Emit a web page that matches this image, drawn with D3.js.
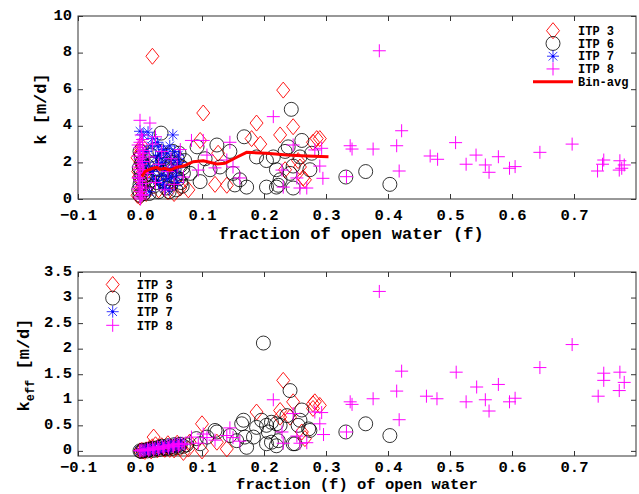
<!DOCTYPE html>
<html>
<head>
<meta charset="utf-8">
<script src="https://cdn.jsdelivr.net/npm/d3@7"></script>
<style>
  body { margin: 0; background: #fff; }
  text { font-family: "Liberation Mono", "DejaVu Sans Mono", monospace; font-weight: bold; fill: #000; }
</style>
</head>
<body>
<div id="chart"></div>
<script>
// tick labels
const fTicks = [-0.1, 0, 0.1, 0.2, 0.3, 0.4, 0.5, 0.6, 0.7]
const kTicks = [0, 2, 4, 6, 8, 10]
const keffTicks = [0, 0.5, 1, 1.5, 2, 2.5, 3, 3.5]
const seriesNames = ['ITP 3', 'ITP 6', 'ITP 7', 'ITP 8']

// top panel: [f, k]
const itp3Top = [[0,0.1],[0,0.5],[0.002,1.0],[-0.003,1.5],[0.001,2.0],[0,2.5],[0.003,2.9],[-0.004,0.2],[0.004,0.7],
  [-0.002,1.2],[0.003,1.75],[-0.004,2.25],[0.002,2.7],[0.01,0.3],[0.015,0.8],
  [0.02,7.8],[0.025,1.2],[0.03,0.5],[0.035,2.2],[0.045,0.4],[0.05,1.0],[0.055,0.3],[0.06,2.0],[0.065,0.6],
  [0.078,0.5],[0.097,3.2],[0.102,4.7],[0.121,0.8],[0.126,2.5],[0.14,0.75],[0.18,3.3],[0.188,4.15],[0.194,3.0],
  [0.226,3.5],[0.231,5.95],[0.247,3.95],[0.234,1.6],[0.255,2.1],[0.258,1.75],[0.263,1.15],[0.266,1.05],
  [0.279,3.1],[0.285,3.3],[0.29,3.3]]
const itp6Top = [[0,0.2],[0,0.8],[0.002,1.4],[0.003,2.0],[0,2.6],[-0.002,0.5],[0.001,1.1],[-0.001,1.7],[0.002,2.3],
  [0.006,0.3],[0.007,1.25],[0.005,1.9],[0.008,0.5],[0.01,1.1],[0.012,1.8],[0.015,0.3],
  [0.018,2.4],[0.02,1.3],[0.022,0.7],[0.025,2.0],[0.028,1.6],[0.03,0.4],[0.032,2.6],[0.034,3.6],[0.036,1.0],
  [0.04,1.9],[0.042,0.6],[0.045,2.4],[0.048,1.3],[0.05,0.8],[0.052,2.0],[0.055,1.6],[0.058,0.5],[0.06,2.2],
  [0.062,1.1],[0.065,1.8],[0.068,0.7],[0.07,1.4],[0.072,2.1],
  [0.016,1.0],[0.024,2.7],[0.027,0.9],[0.033,1.4],[0.038,2.2],[0.043,1.6],[0.047,0.4],[0.053,2.6],
  [0.057,1.2],[0.063,2.5],[0.066,0.9],[0.069,1.7],[0.019,1.9],[0.039,0.9],[0.049,1.8],
  [0.081,1.4],[0.092,2.85],[0.097,0.95],[0.105,2.2],[0.113,1.6],[0.124,2.95],[0.129,1.75],[0.145,2.6],
  [0.15,1.4],[0.153,0.77],[0.161,1.05],[0.168,3.4],[0.172,0.65],[0.188,2.3],[0.204,2.1],[0.204,0.65],
  [0.215,2.3],[0.22,1.6],[0.22,0.65],[0.223,0.75],[0.226,1.05],[0.234,2.6],[0.239,2.85],[0.242,1.4],
  [0.244,4.9],[0.247,1.8],[0.247,0.6],[0.258,2.3],[0.261,3.2],[0.274,1.6],[0.277,2.5],
  [0.332,1.2],[0.364,1.5],[0.403,0.8]]
const itp7Top = [[0,3.7],[0.005,3.5],[0.013,3.65],[0.02,3.3],[0.053,3.5],[0.03,2.85],[0.025,2.3],[0.035,2.0],
  [0.04,1.6],[0.045,2.5],[0.05,1.2],[0.055,2.1],[0.06,1.7],[0.03,0.9],[0.04,0.6],[0.02,1.5],[0.01,2.6],
  [0.048,2.9],[0.062,2.4],[0.035,1.3],[0,1.0],[0.005,2.0],[0.015,0.4],[0.06,0.9],
  [0.018,2.9],[0.022,1.1],[0.027,1.8],[0.032,2.4],[0.037,0.8],[0.042,2.2],[0.044,1.1],[0.052,1.7],
  [0.056,2.6],[0.058,1.3],[0.064,2.0],[0.012,1.8],[0.028,3.1],[0.038,2.7],[0.047,0.5]]
const itp8Top = [[0,0.1],[0,0.4],[0,0.7],[0,1.0],[0,1.3],[0,1.6],[0,1.9],[0,2.2],[0,2.5],[0,2.8],[0,3.1],
  [0.004,0.25],[-0.003,0.55],[0.004,0.85],[-0.003,1.15],[0.004,1.45],[-0.003,1.75],[0.004,2.05],[-0.003,2.35],
  [0.004,2.65],[-0.003,2.95],[0.004,3.25],[0.001,0.0],[0.006,1.6],[0.006,2.5],
  [0.002,3.5],[0,4.3],[0.016,4.15],[0.003,0.2],[-0.002,1.15],[0.003,2.05],
  [0.01,0.6],[0.012,1.4],[0.015,2.3],[0.02,3.0],[0.025,0.9],[0.03,1.9],[0.035,2.6],[0.04,0.5],[0.045,1.5],
  [0.05,2.2],[0.055,0.8],[0.06,1.8],[0.065,2.7],[0.07,1.2],[0.025,3.4],
  [0.083,3.2],[0.094,1.58],[0.102,3.2],[0.108,2.4],[0.121,1.7],[0.14,2.13],[0.145,3.1],[0.15,1.75],
  [0.161,1.15],[0.215,4.5],[0.229,1.58],[0.231,0.65],[0.247,2.95],[0.253,1.15],[0.258,0.6],[0.269,0.6],
  [0.282,2.68],[0.29,1.8],[0.293,2.77],[0.295,1.13],[0.333,1.22],[0.339,2.91],[0.342,2.73],[0.376,2.73],
  [0.386,8.1],[0.414,2.91],[0.418,1.53],[0.422,3.73],[0.468,2.35],[0.48,2.17],[0.509,3.08],[0.526,1.9],
  [0.542,2.4],[0.557,1.86],[0.563,1.46],[0.578,2.31],[0.596,1.68],[0.605,1.77],[0.645,2.55],[0.697,3.0],
  [0.738,1.53],[0.746,1.9],[0.748,2.13],[0.773,1.58],[0.774,2.09],[0.777,1.68],[0.781,1.86]]
const binAvg = [[0.003,1.22],[0.008,1.5],[0.013,1.58],[0.021,1.68],[0.027,1.73],[0.032,1.62],[0.04,1.68],
  [0.048,1.58],[0.059,1.73],[0.07,1.8],[0.086,2.04],[0.102,2.09],[0.124,1.91],[0.137,1.95],[0.156,2.28],
  [0.172,2.55],[0.204,2.5],[0.237,2.4],[0.269,2.35],[0.304,2.31]]

// bottom panel: [f, k_eff]
const itp3Bot = [[0,0],[0.003,0.01],[0.005,0.0],[0.01,0.02],[0.015,0.05],[0.02,0.08],[0.022,0.27],[0.025,0.12],
  [0.03,0.06],[0.035,0.1],[0.04,0.03],[0.045,0.14],[0.05,0.07],[0.055,0.02],[0.06,0.15],[0.065,0.05],
  [0.008,-0.01],[0.018,0.0],[0.028,0.02],[0.038,0.04],[0.048,0.03],[0.058,0.06],
  [0.07,-0.03],[0.08,0.17],[0.078,0.04],[0.1,0.0],[0.1,0.53],[0.124,0.17],[0.14,0.04],[0.188,0.76],
  [0.226,0.79],[0.226,0.66],[0.231,1.38],[0.242,0.66],[0.247,0.96],[0.261,0.37],[0.266,0.24],[0.279,0.92],
  [0.282,0.96],[0.279,0.83],[0.29,0.89]]
const itp6Bot = [[0,0],[0.005,0.01],[0.01,0.02],[0.015,0.03],[0.02,0.05],[0.025,0.04],[0.03,0.07],[0.035,0.09],
  [0.04,0.06],[0.045,0.1],[0.05,0.08],[0.055,0.12],[0.06,0.1],[0.065,0.13],[0.07,0.09],[0.075,0.12],
  [0.002,-0.01],[0.012,0.0],[0.022,0.01],[0.032,0.03],[0.042,0.04],[0.052,0.05],[0.062,0.07],
  [0.091,0.24],[0.097,0.14],[0.108,0.27],[0.121,0.4],[0.124,0.37],[0.145,0.3],[0.156,0.2],[0.164,0.53],
  [0.167,0.6],[0.169,0.27],[0.172,0.07],[0.183,0.27],[0.188,0.46],[0.196,0.6],[0.199,2.11],[0.204,0.5],
  [0.204,0.14],[0.207,0.37],[0.212,0.56],[0.212,0.17],[0.22,0.53],[0.22,0.1],[0.223,0.2],[0.226,0.5],
  [0.237,0.69],[0.242,1.18],[0.247,0.14],[0.25,0.14],[0.255,0.5],[0.258,0.6],[0.261,0.8],[0.272,0.43],
  [0.274,0.4],[0.332,0.37],[0.364,0.53],[0.403,0.3]]
const itp7Bot = [[0,0],[0.005,0.01],[0.01,0.03],[0.015,0.04],[0.02,0.06],[0.025,0.05],[0.03,0.08],[0.035,0.07],
  [0.04,0.1],[0.045,0.12],[0.05,0.09],[0.055,0.14],[0.06,0.11],[0.065,0.15],
  [0.008,0.0],[0.018,0.02],[0.028,0.04],[0.038,0.05],[0.048,0.06],[0.058,0.08],[0.068,0.12]]
const itp8Bot = [[0,0],[0,0.01],[0.003,0.02],[0.008,0.02],[0.012,0.04],[0.016,0.03],[0.02,0.06],[0.024,0.05],
  [0.028,0.08],[0.032,0.06],[0.036,0.09],[0.04,0.08],[0.044,0.1],[0.048,0.12],[0.052,0.1],[0.056,0.13],
  [0.06,0.14],[0.064,0.12],[0.068,0.15],[0.072,0.13],
  [0.005,0.0],[0.014,0.01],[0.022,0.02],[0.03,0.03],[0.038,0.05],[0.046,0.06],[0.054,0.08],[0.062,0.09],
  [0.083,0.27],[0.094,0.15],[0.102,0.33],[0.108,0.26],[0.121,0.21],[0.14,0.3],[0.145,0.45],[0.15,0.26],
  [0.161,0.19],[0.215,1.0],[0.229,0.37],[0.231,0.15],[0.247,0.73],[0.253,0.29],[0.258,0.15],[0.269,0.16],
  [0.282,0.76],[0.29,0.53],[0.293,0.75],[0.296,0.32],[0.333,0.37],[0.339,0.96],[0.342,0.91],[0.376,1.02],
  [0.386,3.12],[0.414,1.17],[0.418,0.61],[0.422,1.56],[0.462,1.07],[0.479,1.02],[0.51,1.54],[0.526,0.96],
  [0.543,1.25],[0.557,1.0],[0.563,0.78],[0.578,1.3],[0.596,0.96],[0.605,1.03],[0.645,1.63],[0.697,2.08],
  [0.739,1.07],[0.748,1.52],[0.748,1.38],[0.773,1.18],[0.774,1.54],[0.781,1.34]]

const shapes = {
  diamond: 'M0,-8L6.5,0L0,8L-6.5,0Z',
  circle: 'M7,0A7,7 0 1,1 -7,0A7,7 0 1,1 7,0Z',
  star: 'M-6,0H6M0,-6V6M-4.3,-4.3L4.3,4.3M-4.3,4.3L4.3,-4.3',
  plus: 'M-6.5,0H6.5M0,-6.5V6.5'
}
const styles = [
  { shape: 'diamond', color: '#ff0000', w: 0.9 },
  { shape: 'circle', color: '#000000', w: 0.8 },
  { shape: 'star', color: '#0000ff', w: 0.8 },
  { shape: 'plus', color: '#ff00ff', w: 1 }
]

const svg = d3.select('#chart').append('svg').attr('width', 639).attr('height', 494)

function drawPanel(p) {
  const x = d3.scaleLinear().domain([-0.1, 0.8]).range([78, 636])
  const y = d3.scaleLinear().domain(p.yDomain).range([p.bottom, p.top])
  const g = svg.append('g')

  g.append('rect').attr('x', 78).attr('y', p.top).attr('width', 558).attr('height', p.bottom - p.top)
    .attr('fill', '#fff').attr('stroke', '#333').attr('stroke-width', 1)

  const ax = (sel) => sel.selectAll('.domain').remove()
  g.append('g').attr('transform', `translate(0,${p.bottom})`)
    .call(d3.axisBottom(x).tickValues(fTicks).tickSizeInner(-5).tickSizeOuter(0).tickPadding(p.xPad)).call(ax)
  g.append('g').attr('transform', `translate(0,${p.top})`)
    .call(d3.axisTop(x).tickValues(fTicks).tickFormat('').tickSizeInner(-5).tickSizeOuter(0)).call(ax)
  const yAx = g.append('g').attr('transform', 'translate(78,0)')
    .call(d3.axisLeft(y).tickValues(p.yTicks).tickFormat(d3.format('')).tickSizeInner(-5).tickSizeOuter(0).tickPadding(6)).call(ax)
  yAx.selectAll('.tick text').attr('dy', '0.2em')
  g.append('g').attr('transform', 'translate(636,0)')
    .call(d3.axisRight(y).tickValues(p.yTicks).tickFormat('').tickSizeInner(-5).tickSizeOuter(0)).call(ax)
  g.selectAll('.tick line').attr('stroke', '#333')
  g.selectAll('.tick text').style('font-size', '15.5px').style('font-family', '"Liberation Mono", monospace')
    .style('font-weight', 'bold').attr('fill', '#000')

  p.series.forEach((data, i) => {
    const s = styles[i]
    g.append('g').selectAll('path').data(data).join('path')
      .attr('d', shapes[s.shape])
      .attr('transform', d => `translate(${x(d[0])},${y(d[1])})`)
      .attr('fill', 'none').attr('stroke', s.color).attr('stroke-width', s.w)
  })

  if (p.line) {
    g.append('path').datum(p.line)
      .attr('d', d3.line().x(d => x(d[0])).y(d => y(d[1])))
      .attr('fill', 'none').attr('stroke', '#ff0000').attr('stroke-width', 3)
  }

  // legend
  const lg = g.append('g')
  seriesNames.forEach((name, i) => {
    const s = styles[i]
    const ly = p.legY + i * p.legStep
    lg.append('path').attr('d', shapes[s.shape]).attr('transform', `translate(${p.legX},${ly})`)
      .attr('fill', 'none').attr('stroke', s.color).attr('stroke-width', s.w)
    if (s.shape === 'star') lg.append('circle').attr('cx', p.legX).attr('cy', ly).attr('r', 1.3).attr('fill', s.color)
    lg.append('text').attr('x', p.legX + p.legText).attr('y', ly).attr('dy', '0.35em')
      .style('font-size', '12px').text(name)
  })
  if (p.line) {
    const ly = p.legY + 4 * p.legStep
    lg.append('line').attr('x1', p.legX - 20).attr('x2', p.legX + 20).attr('y1', ly).attr('y2', ly)
      .attr('stroke', '#ff0000').attr('stroke-width', 3)
    lg.append('text').attr('x', p.legX + p.legText).attr('y', ly).attr('dy', '0.35em')
      .style('font-size', '12px').text('Bin-avg')
  }

  g.append('text').attr('x', p.xLabelX).attr('y', p.xLabelY).attr('text-anchor', 'middle')
    .style('font-size', p.xLabelSize).text(p.xLabel)
  return g
}

const topPanel = drawPanel({
  top: 16, bottom: 199, yDomain: [0, 10], yTicks: kTicks, xPad: 10,
  series: [itp3Top, itp6Top, itp7Top, itp8Top], line: binAvg,
  legX: 553, legY: 30.7, legStep: 12.75, legText: 25,
  xLabel: 'fraction of open water (f)', xLabelX: 351, xLabelY: 239, xLabelSize: '17px'
})
topPanel.append('text').attr('transform', 'translate(46,109) rotate(-90)').attr('text-anchor', 'middle')
  .style('font-size', '17px').text('k [m/d]')

const botPanel = drawPanel({
  top: 272, bottom: 456, yDomain: [-0.1, 3.5], yTicks: keffTicks, xPad: 4.8,
  series: [itp3Bot, itp6Bot, itp7Bot, itp8Bot], line: null,
  legX: 112.7, legY: 284.5, legStep: 13.6, legText: 24,
  xLabel: 'fraction (f) of open water', xLabelX: 357, xLabelY: 489.3, xLabelSize: '15.5px'
})
const yl = botPanel.append('text').attr('transform', 'translate(29,365) rotate(-90)').attr('text-anchor', 'middle')
  .style('font-size', '17px')
yl.append('tspan').text('k')
yl.append('tspan').attr('dy', 5).style('font-size', '12px').text('eff')
yl.append('tspan').attr('dy', -5).text(' [m/d]')
</script>
</body>
</html>
